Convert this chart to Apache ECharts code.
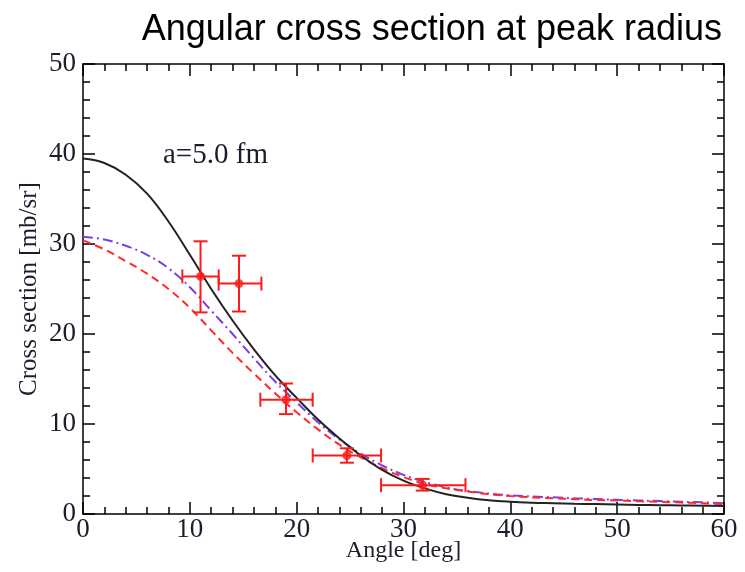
<!DOCTYPE html>
<html>
<head>
<meta charset="utf-8">
<script src="https://cdn.jsdelivr.net/npm/echarts@6/dist/echarts.min.js"></script>
<style>html,body{margin:0;padding:0;background:#fff;}#c{width:745px;height:572px;}</style>
</head>
<body>
<div id="c"></div>
<script>
// ---- data ----
const angles = [0,2,4,6,8,10,12,14,16,18,20,22,24,26,28,30,32,34,36,38,40,42,44,46,48,50,52,54,56,58,60];
const blackSolid = [39.5,39.0,37.7,35.6,32.5,28.8,25.0,21.5,18.3,15.4,12.9,10.5,8.4,6.5,4.9,3.7,2.85,2.2,1.8,1.52,1.36,1.26,1.2,1.14,1.1,1.05,1.0,0.98,0.95,0.92,0.9];
const redDashed  = [30.4,29.4,28.1,26.7,25.0,22.9,20.4,17.9,15.6,13.4,11.3,9.4,7.7,6.3,5.1,4.1,3.35,2.85,2.5,2.2,2.0,1.85,1.75,1.65,1.55,1.5,1.42,1.35,1.27,1.2,1.1];
const purpleDashDot = [30.8,30.5,29.8,28.8,27.3,25.2,22.6,20.0,17.3,14.7,12.4,10.2,8.3,6.7,5.4,4.35,3.55,2.95,2.55,2.27,2.07,1.95,1.85,1.75,1.66,1.57,1.5,1.44,1.36,1.3,1.2];
// measured points: angle, value, angle low, angle high, value low, value high
const expAngle = [11.0, 14.6, 19.0, 24.7, 31.8];
const expValue = [26.4, 25.6, 12.7, 6.5, 3.2];
const expAngleLo = [9.3, 12.7, 16.6, 21.5, 27.9];
const expAngleHi = [12.7, 16.7, 21.5, 27.9, 35.8];
const expValueLo = [22.4, 22.5, 11.1, 5.7, 2.6];
const expValueHi = [30.3, 28.7, 14.5, 7.3, 3.9];
const xTickLabels = ['0','10','20','30','40','50','60'];
const yTickLabels = ['0','10','20','30','40','50'];

const pair = (xs, ys) => xs.map((x, i) => [x, ys[i]]);
const expData = expAngle.map((x, i) => [x, expValue[i], expAngleLo[i], expAngleHi[i], expValueLo[i], expValueHi[i]]);

const serif = 'Liberation Serif, Times New Roman, serif';
const txtColor = '#1c1c2c';
const chart = echarts.init(document.getElementById('c'), null, {renderer: 'canvas'});

const tickCommon = {show: true, inside: true, length: 12, lineStyle: {color: '#000', width: 1.5}};
const minorCommon = {show: true, splitNumber: 5, length: 7, lineStyle: {color: '#000', width: 1.5}};
const lineCommon = {show: true, onZero: false, lineStyle: {color: '#000', width: 1.5}};

chart.setOption({
  animation: false,
  backgroundColor: '#fff',
  title: {
    text: 'Angular cross section at peak radius',
    right: 18, top: 7,
    textStyle: {fontFamily: 'Liberation Sans, Arial, sans-serif', fontSize: 36, fontWeight: 'normal', color: '#000'}
  },
  grid: {left: 83, right: 21, top: 64, bottom: 58, containLabel: false, outerBoundsMode: 'none'},
  graphic: [{
    type: 'text', left: 163, top: 141,
    style: {text: 'a=5.0 fm', font: '29px ' + serif, fill: txtColor}
  }],
  xAxis: [{
    type: 'value', min: 0, max: 60, interval: 10,
    name: 'Angle [deg]', nameLocation: 'middle', nameGap: 25, nameMoveOverlap: false,
    nameTextStyle: {fontFamily: serif, fontSize: 24, color: txtColor},
    axisLine: lineCommon, axisTick: tickCommon, minorTick: minorCommon,
    splitLine: {show: false},
    axisLabel: {fontFamily: serif, fontSize: 27, color: txtColor, margin: 2,
      formatter: v => xTickLabels[Math.round(v / 10)]}
  }, {
    type: 'value', min: 0, max: 60, interval: 10, position: 'top',
    axisLine: lineCommon, axisTick: tickCommon, minorTick: minorCommon,
    splitLine: {show: false}, axisLabel: {show: false}
  }],
  yAxis: [{
    type: 'value', min: 0, max: 50, interval: 10,
    name: 'Cross section [mb/sr]', nameLocation: 'middle', nameGap: 41, nameMoveOverlap: false,
    nameTextStyle: {fontFamily: serif, fontSize: 25, color: txtColor},
    axisLine: lineCommon, axisTick: tickCommon, minorTick: minorCommon,
    splitLine: {show: false},
    axisLabel: {fontFamily: serif, fontSize: 27, color: txtColor, margin: 7,
      formatter: v => yTickLabels[Math.round(v / 10)]}
  }, {
    type: 'value', min: 0, max: 50, interval: 10, position: 'right',
    axisLine: lineCommon, axisTick: tickCommon, minorTick: minorCommon,
    splitLine: {show: false}, axisLabel: {show: false}
  }],
  series: [{
    type: 'line', data: pair(angles, purpleDashDot), showSymbol: false, smooth: 0.4,
    lineStyle: {color: '#7a3fe0', width: 2, type: [10, 4, 2, 4]}, z: 3
  }, {
    type: 'line', data: pair(angles, redDashed), showSymbol: false, smooth: 0.4,
    lineStyle: {color: '#ff2a2a', width: 2, type: [8, 5]}, z: 3
  }, {
    type: 'line', data: pair(angles, blackSolid), showSymbol: false, smooth: 0.4,
    lineStyle: {color: '#222', width: 2}, z: 4
  }, {
    type: 'custom', data: expData, z: 5,
    renderItem: function (params, api) {
      const x = api.value(0), y = api.value(1);
      const pl = api.coord([api.value(2), y]);
      const ph = api.coord([api.value(3), y]);
      const pb = api.coord([x, api.value(4)]);
      const pt = api.coord([x, api.value(5)]);
      const c = 7;
      const st = {stroke: '#ff1a1a', lineWidth: 2};
      const L = (x1, y1, x2, y2) => ({type: 'line', shape: {x1, y1, x2, y2}, style: st});
      return {type: 'group', children: [
        L(pl[0], pl[1], ph[0], ph[1]),
        L(pb[0], pb[1], pt[0], pt[1]),
        L(pl[0], pl[1] - c, pl[0], pl[1] + c),
        L(ph[0], ph[1] - c, ph[0], ph[1] + c),
        L(pb[0] - c, pb[1], pb[0] + c, pb[1]),
        L(pt[0] - c, pt[1], pt[0] + c, pt[1])
      ]};
    }
  }, {
    type: 'scatter', data: pair(expAngle, expValue), symbol: 'circle', symbolSize: 9,
    itemStyle: {color: '#ff1a1a'}, z: 6
  }]
});
</script>
</body>
</html>
